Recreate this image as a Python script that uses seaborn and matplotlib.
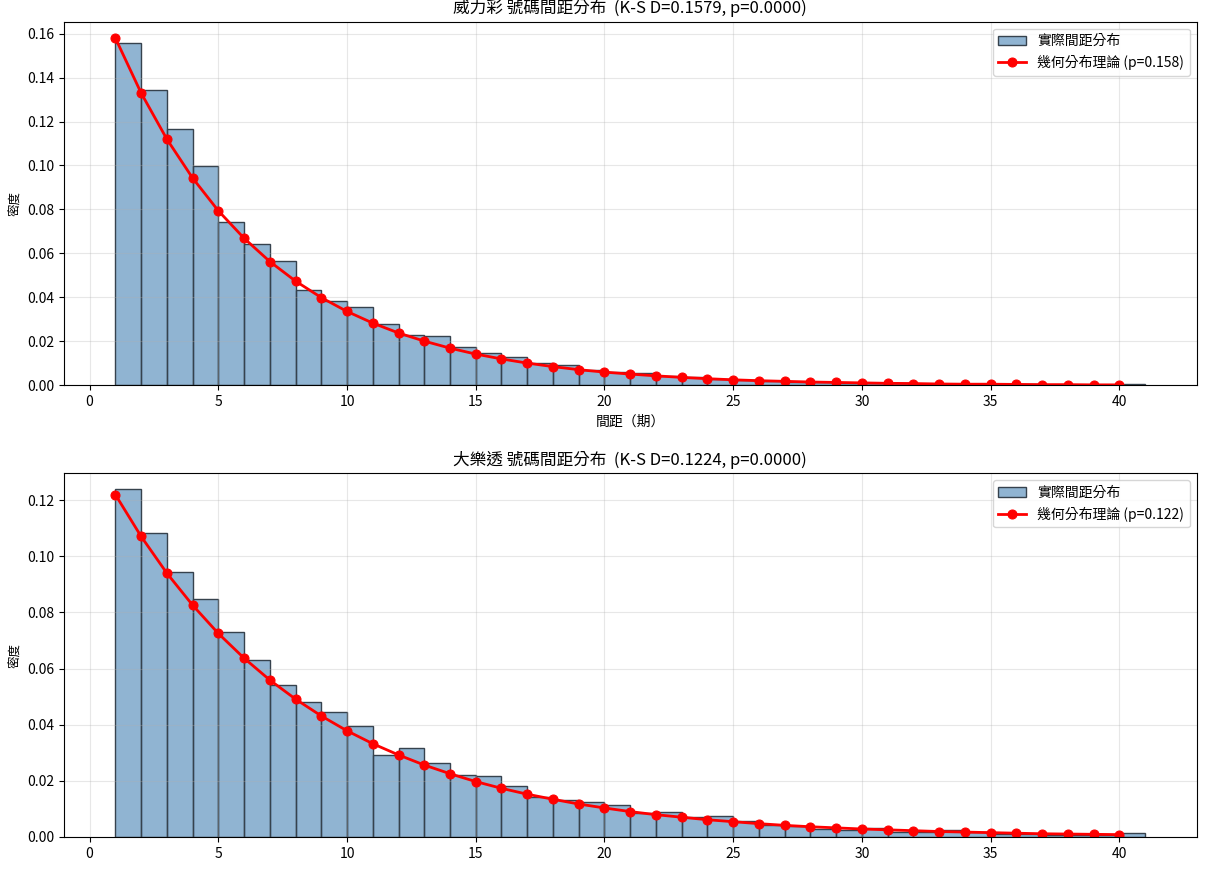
import numpy as np
import pandas as pd
import matplotlib
matplotlib.use("Agg")
import matplotlib.pyplot as plt
import seaborn as sns

plt.rcParams['font.family'] = ['Noto Sans CJK TC', 'DejaVu Sans']
plt.rcParams['axes.unicode_minus'] = False

# ---- data ----
gap_bins = list(range(1, 41))          # left edge of each 1-period bin
bin_edges = list(range(1, 42))

top_title = "威力彩 號碼間距分布  (K-S D=0.1579, p=0.0000)"
bottom_title = "大樂透 號碼間距分布  (K-S D=0.1224, p=0.0000)"

top_density = [0.1559, 0.1345, 0.1167, 0.0998, 0.0743, 0.0643, 0.0565, 0.0433,
               0.0384, 0.0357, 0.0277, 0.0229, 0.0225, 0.0173, 0.0149, 0.0129,
               0.0103, 0.0092, 0.0068, 0.0062, 0.0055, 0.0044, 0.0036, 0.0028,
               0.0024, 0.0020, 0.0017, 0.0015, 0.0012, 0.0010, 0.0009, 0.0008,
               0.0006, 0.0006, 0.0005, 0.0004, 0.0003, 0.0003, 0.0002, 0.0006]
top_theory = [0.1580, 0.1330, 0.1120, 0.0943, 0.0794, 0.0669, 0.0563, 0.0474,
              0.0399, 0.0336, 0.0283, 0.0238, 0.0201, 0.0169, 0.0142, 0.0120,
              0.0101, 0.0085, 0.0071, 0.0060, 0.0051, 0.0043, 0.0036, 0.0030,
              0.0025, 0.0021, 0.0018, 0.0015, 0.0013, 0.0011, 0.0009, 0.0008,
              0.0006, 0.0005, 0.0005, 0.0004, 0.0003, 0.0003, 0.0002, 0.0002]

bottom_density = [0.1239, 0.1083, 0.0944, 0.0848, 0.0730, 0.0630, 0.0541, 0.0481,
                  0.0445, 0.0395, 0.0290, 0.0316, 0.0262, 0.0220, 0.0216, 0.0181,
                  0.0142, 0.0132, 0.0126, 0.0115, 0.0086, 0.0089, 0.0072, 0.0076,
                  0.0055, 0.0044, 0.0039, 0.0028, 0.0025, 0.0030, 0.0019, 0.0019,
                  0.0025, 0.0017, 0.0011, 0.0009, 0.0008, 0.0007, 0.0007, 0.0015]
bottom_theory = [0.1220, 0.1071, 0.0940, 0.0826, 0.0725, 0.0637, 0.0559, 0.0491,
                 0.0431, 0.0378, 0.0332, 0.0292, 0.0256, 0.0225, 0.0197, 0.0173,
                 0.0152, 0.0134, 0.0117, 0.0103, 0.0090, 0.0079, 0.0070, 0.0061,
                 0.0054, 0.0047, 0.0041, 0.0036, 0.0032, 0.0028, 0.0025, 0.0022,
                 0.0019, 0.0017, 0.0015, 0.0013, 0.0011, 0.0010, 0.0009, 0.0008]

hist_label = "實際間距分布"
top_line_label = "幾何分布理論 (p=0.158)"
bottom_line_label = "幾何分布理論 (p=0.122)"
xlabel = "間距（期）"
ylabel = "密度"

# ---- figure ----
fig, axes = plt.subplots(2, 1, figsize=(12.05, 8.69), dpi=100)
fig.subplots_adjust(left=0.053, right=0.993, top=0.975, bottom=0.037, hspace=0.242)

panels = [
    (axes[0], top_density, top_theory, top_title, top_line_label, True),
    (axes[1], bottom_density, bottom_theory, bottom_title, bottom_line_label, False),
]

for ax, dens, theo, title, line_label, show_xlabel in panels:
    df = pd.DataFrame({"gap": [b + 0.5 for b in gap_bins], "w": dens})
    sns.histplot(data=df, x="gap", weights="w", bins=bin_edges, stat="count",
                 color="steelblue", alpha=0.6, edgecolor="#36424d", linewidth=1,
                 label=hist_label, ax=ax)
    tdf = pd.DataFrame({"k": gap_bins, "p": theo})
    sns.lineplot(data=tdf, x="k", y="p", color="red", marker="o", linewidth=2,
                 markersize=6.5, markeredgecolor="red", label=line_label, ax=ax)
    ax.set_title(title, fontsize=12)
    ax.set_ylabel(ylabel, fontsize=9)
    if show_xlabel:
        ax.set_xlabel(xlabel, fontsize=10)
    else:
        ax.set_xlabel("")
    ax.grid(True, alpha=0.3)
    ax.tick_params(labelsize=10)
    ax.set_xlim(-1, 43)
    handles, labels = ax.get_legend_handles_labels()
    order = [labels.index(hist_label), labels.index(line_label)]
    ax.legend([handles[i] for i in order], [labels[i] for i in order],
              loc="upper right", fontsize=10)

axes[0].set_ylim(0, 0.1654)
axes[1].set_ylim(0, 0.1296)

fig.savefig("out.png", dpi=100)
